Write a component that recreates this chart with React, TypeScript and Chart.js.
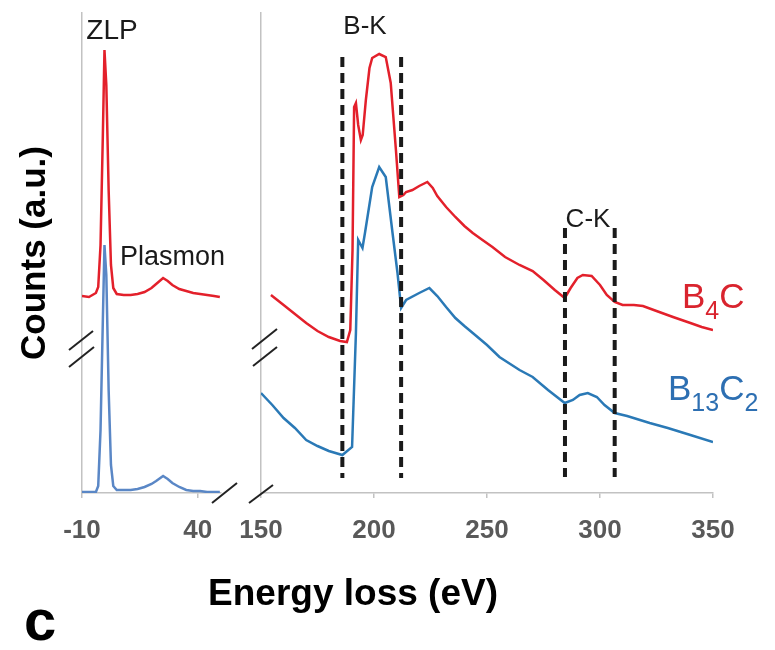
import React, { useEffect, useRef } from 'react';
import { Chart, registerables } from 'chart.js';

Chart.register(...registerables);

const FONT = "'Liberation Sans', Arial, Helvetica, sans-serif";

// ---------- Low-loss panel (ZLP + plasmon) ----------
const lowLossEnergy = [-10, -7, -4, -3, -2, -1, -0.3, 0.5, 1.5, 2.5, 3.5, 5, 8, 11, 14, 17, 20, 22, 25, 27, 29, 32, 35, 38, 41, 44, 47, 49.5];
const lowLossB4C = [197, 196, 200, 206, 248, 358, 443, 408, 303, 228, 205, 199, 198, 198, 199, 201, 205, 209, 215, 212, 208, 204, 202, 200, 199, 198, 197, 196];
const lowLossB13C2 = [1, 1, 1, 7, 63, 173, 248, 218, 103, 28, 7, 3, 3, 3, 4, 6, 9, 12, 17, 14, 10, 6, 3, 2, 2, 1, 1, 1];
const lowLossTicks = [-10, 40];

// ---------- Core-loss panel (B-K and C-K edges) ----------
const coreB4CEnergy = [154.4, 160, 165, 170, 175, 180, 185, 188, 189.5, 190.5, 191.2, 192, 193, 194.2, 195, 196.4, 198, 199.2, 202.3, 205.2, 207.4, 209.7, 211.2, 213, 214.2, 217, 220, 223.6, 226, 228, 231.9, 236, 240, 243.7, 248, 252.4, 258, 264.4, 270.2, 275, 280, 284.4, 287, 290, 292.4, 296.3, 300, 303, 306.5, 310, 315, 319, 325, 332.3, 340, 345, 350];
const coreB4C = [198, 188, 179, 170, 162, 156, 152, 151, 163, 243, 386, 390, 368, 353, 358, 393, 425, 435, 439, 436, 410, 343, 296, 298, 301, 303, 307, 311, 305, 297, 286, 276, 267, 260, 253, 246, 236, 228, 222, 213, 203, 195, 205, 215, 218, 217, 208, 198, 191, 188, 188, 187, 182, 176, 170, 166, 163];

const coreB13C2Energy = [150, 155, 160, 165, 170, 175, 180, 186, 190.3, 192, 193, 194.9, 196, 199.2, 202.3, 205.2, 208.2, 210.4, 212, 214.2, 220, 224.5, 228, 231.9, 236, 240, 243.7, 250, 255.5, 264.4, 270.2, 277, 284.4, 288, 291, 294.6, 298.6, 302, 306.5, 312, 322, 330, 340, 350];
const coreB13C2 = [100, 88, 75, 65, 53, 47, 42, 38, 46, 160, 253, 245, 260, 306, 326, 316, 260, 220, 185, 193, 200, 205, 197, 186, 175, 167, 160, 148, 136, 123, 116, 103, 90, 93, 98, 100, 96, 88, 80, 77, 70, 65, 58, 51];
const coreTicks = [150, 200, 250, 300, 350];

// Edge windows (dashed markers): energy positions and vertical extents
const bkEdges = [186, 212];
const bkExtent = [436, 15];
const ckEdges = [284.5, 306.5];
const ckExtent = [265, 16];

const Y_MIN = 0;
const Y_MAX = 480;

const RED = '#e3202b';
const BLUE = '#2a79b6';
const LIGHT_BLUE = '#5a87c6';
const AXIS = '#c2c2c2';
const TICK_TEXT = '#595959';

const toPoints = (xs: number[], ys: number[]) => xs.map((x, i) => ({ x, y: ys[i] }));

function line(ctx: CanvasRenderingContext2D, x1: number, y1: number, x2: number, y2: number) {
  ctx.beginPath();
  ctx.moveTo(x1, y1);
  ctx.lineTo(x2, y2);
  ctx.stroke();
}

const leftDecor = {
  id: 'leftDecor',
  afterDraw(chart: any) {
    const { ctx, chartArea } = chart;
    ctx.save();
    ctx.fillStyle = '#1a1a1a';
    ctx.textBaseline = 'alphabetic';
    ctx.font = `28px ${FONT}`;
    ctx.textAlign = 'center';
    ctx.fillText('ZLP', 112, 39);
    ctx.font = `27px ${FONT}`;
    ctx.textAlign = 'left';
    ctx.fillText('Plasmon', 120, 265);
    // axis break marks
    ctx.strokeStyle = '#222';
    ctx.lineWidth = 2;
    const ax = chartArea.left;
    line(ctx, ax - 13, 350, ax + 11, 331);
    line(ctx, ax - 13, 367, ax + 12, 347);
    const bx = chartArea.right;
    const by = chartArea.bottom;
    line(ctx, bx - 9, by + 10, bx + 16, by - 10);
    ctx.restore();
  },
};

const rightDecor = {
  id: 'rightDecor',
  afterDraw(chart: any) {
    const { ctx, chartArea } = chart;
    ctx.save();
    ctx.fillStyle = '#1a1a1a';
    ctx.textBaseline = 'alphabetic';
    ctx.textAlign = 'center';
    ctx.font = `26px ${FONT}`;
    ctx.fillText('B-K', 365, 34);
    ctx.fillText('C-K', 588, 227);

    // Series labels with subscripts
    const drawFormula = (parts: [string, boolean][], x: number, y: number, color: string) => {
      ctx.fillStyle = color;
      ctx.textAlign = 'left';
      let cx = x;
      for (const [t, sub] of parts) {
        ctx.font = sub ? `25px ${FONT}` : `35px ${FONT}`;
        ctx.fillText(t, cx, sub ? y + 11 : y);
        cx += ctx.measureText(t).width;
      }
    };
    drawFormula([['B', false], ['4', true], ['C', false]], 682, 308, '#d9242e');
    drawFormula([['B', false], ['13', true], ['C', false], ['2', true]], 668, 400, '#2d6fb2');

    // Axis title spanning both panels and panel letter
    ctx.fillStyle = '#000';
    ctx.textAlign = 'center';
    ctx.font = `bold 37px ${FONT}`;
    ctx.fillText('Energy loss (eV)', 353, 605);
    ctx.textAlign = 'left';
    ctx.font = `bold 58px ${FONT}`;
    ctx.fillText('c', 24, 640);

    // axis break marks
    ctx.strokeStyle = '#222';
    ctx.lineWidth = 2;
    const ax = chartArea.left;
    line(ctx, ax - 9, 349, ax + 16, 329);
    line(ctx, ax - 8, 366, ax + 16, 347);
    const by = chartArea.bottom;
    line(ctx, ax - 12, by + 10, ax + 12, by - 8);
    ctx.restore();
  },
};

const xScale = (min: number, max: number, ticks: number[]) => ({
  type: 'linear' as const,
  min,
  max,
  afterBuildTicks: (s: any) => {
    s.ticks = ticks.map((v) => ({ value: v }));
  },
  afterFit: (s: any) => {
    s.height = 157;
  },
  ticks: {
    color: TICK_TEXT,
    font: { family: FONT, size: 26, weight: 'bold' as const },
    padding: 17,
    maxRotation: 0,
    autoSkip: false,
  },
  grid: { display: true, drawOnChartArea: false, drawTicks: true, tickLength: 5, color: AXIS, lineWidth: 1.5 },
  border: { display: true, color: AXIS, width: 1.5 },
});

const seriesDs = (data: { x: number; y: number }[], color: string, width: number) => ({
  data,
  borderColor: color,
  backgroundColor: color,
  borderWidth: width,
  pointRadius: 0,
  tension: 0,
  fill: false,
  order: 2,
});

const dashDs = (x: number, extent: number[]) => ({
  data: [
    { x, y: extent[0] },
    { x, y: extent[1] },
  ],
  borderColor: '#1a1a1a',
  borderWidth: 4,
  borderDash: [10, 6],
  pointRadius: 0,
  fill: false,
  order: 1,
});

export default function App() {
  const leftRef = useRef<HTMLCanvasElement>(null);
  const rightRef = useRef<HTMLCanvasElement>(null);

  useEffect(() => {
    const left = new Chart(leftRef.current as HTMLCanvasElement, {
      type: 'line',
      data: {
        datasets: [
          seriesDs(toPoints(lowLossEnergy, lowLossB4C), RED, 2.5),
          seriesDs(toPoints(lowLossEnergy, lowLossB13C2), LIGHT_BLUE, 2.5),
        ],
      },
      options: {
        animation: false,
        responsive: false,
        devicePixelRatio: 1,
        layout: { padding: { left: 10, right: 775 - 221, top: 13, bottom: 0 } },
        plugins: { legend: { display: false }, tooltip: { enabled: false } },
        scales: {
          x: xScale(-10, 50, lowLossTicks),
          y: {
            min: Y_MIN,
            max: Y_MAX,
            ticks: { display: false },
            grid: { display: false },
            border: { display: true, color: AXIS, width: 1.5 },
            title: {
              display: true,
              text: 'Counts (a.u.)',
              color: '#000',
              font: { family: FONT, size: 35, weight: 'bold' },
              padding: { top: 4, bottom: 0 },
            },
            afterFit: (s: any) => {
              s.width = 72;
            },
          },
        },
      } as any,
      plugins: [leftDecor],
    });

    const right = new Chart(rightRef.current as HTMLCanvasElement, {
      type: 'line',
      data: {
        datasets: [
          seriesDs(toPoints(coreB4CEnergy, coreB4C), RED, 2.5),
          seriesDs(toPoints(coreB13C2Energy, coreB13C2), BLUE, 2.5),
          dashDs(bkEdges[0], bkExtent),
          dashDs(bkEdges[1], bkExtent),
          dashDs(ckEdges[0], ckExtent),
          dashDs(ckEdges[1], ckExtent),
        ],
      },
      options: {
        animation: false,
        responsive: false,
        devicePixelRatio: 1,
        layout: { padding: { left: 261, right: 775 - 713, top: 13, bottom: 0 } },
        plugins: { legend: { display: false }, tooltip: { enabled: false } },
        scales: {
          x: xScale(150, 350, coreTicks),
          y: {
            min: Y_MIN,
            max: Y_MAX,
            ticks: { display: false },
            grid: { display: false },
            border: { display: true, color: AXIS, width: 1.5 },
            afterFit: (s: any) => {
              s.width = 0;
            },
          },
        },
      } as any,
      plugins: [rightDecor],
    });

    return () => {
      left.destroy();
      right.destroy();
    };
  }, []);

  const canvasStyle: React.CSSProperties = { position: 'absolute', left: 0, top: 0, width: 775, height: 650 };
  return (
    <div style={{ position: 'absolute', left: 0, top: 0, width: 775, height: 650, background: '#fff' }}>
      <canvas ref={leftRef} width={775} height={650} style={canvasStyle} />
      <canvas ref={rightRef} width={775} height={650} style={canvasStyle} />
    </div>
  );
}
